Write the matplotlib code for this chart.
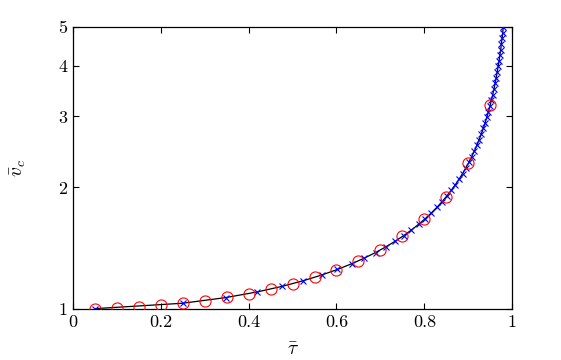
import matplotlib
matplotlib.use("Agg")
import matplotlib.pyplot as plt
from matplotlib.ticker import FixedLocator, NullLocator, FixedFormatter

plt.rcParams['mathtext.fontset'] = 'cm'
plt.rcParams['font.family'] = 'serif'
plt.rcParams['font.serif'] = ['cmr10', 'DejaVu Serif']
plt.rcParams['axes.formatter.use_mathtext'] = True

# red circles
tau_o = [0.05, 0.10, 0.15, 0.20, 0.25, 0.30, 0.35, 0.40, 0.45, 0.50,
         0.55, 0.60, 0.65, 0.70, 0.75, 0.80, 0.85, 0.90, 0.95]
v_o = [1.0013, 1.0050, 1.0114, 1.0206, 1.0328, 1.0483, 1.0675, 1.0911, 1.1198, 1.1547,
       1.1974, 1.2500, 1.3159, 1.4003, 1.5119, 1.6667, 1.8983, 2.2942, 3.2026]

# blue crosses (also the black curve)
tau_x = [0.05, 0.2497, 0.3476, 0.4191, 0.4765, 0.5246, 0.5660, 0.6023, 0.6344, 0.6632,
         0.6890, 0.7123, 0.7336, 0.7530, 0.7707, 0.7869, 0.8019, 0.8156, 0.8283, 0.8401,
         0.8509, 0.8610, 0.8703, 0.8789, 0.8870, 0.8944, 0.9014, 0.9078, 0.9139, 0.9195,
         0.9247, 0.9296, 0.9341, 0.9384, 0.9423, 0.9460, 0.9495, 0.9527, 0.9557, 0.9585,
         0.9612, 0.9636, 0.9659, 0.9681, 0.9701, 0.9720, 0.9738, 0.9754, 0.9770, 0.9784,
         0.9798]
v_x = [1.0013, 1.0327, 1.0665, 1.1014, 1.1374, 1.1746, 1.2130, 1.2527, 1.2937, 1.3360,
       1.3797, 1.4248, 1.4714, 1.5196, 1.5693, 1.6206, 1.6736, 1.7284, 1.7849, 1.8433,
       1.9037, 1.9659, 2.0302, 2.0966, 2.1652, 2.2361, 2.3092, 2.3848, 2.4628, 2.5433,
       2.6265, 2.7125, 2.8012, 2.8928, 2.9874, 3.0852, 3.1861, 3.2903, 3.3979, 3.5091,
       3.6239, 3.7424, 3.8648, 3.9913, 4.1218, 4.2566, 4.3959, 4.5397, 4.6882, 4.8416,
       5.0000]

xticks = [0, 0.2, 0.4, 0.6, 0.8, 1]
xlabels = ['0', '0.2', '0.4', '0.6', '0.8', '1']
yticks = [1, 2, 3, 4, 5]
ylabels = ['1', '2', '3', '4', '5']

fig = plt.figure(figsize=(5.61, 3.6), dpi=100)
ax = fig.add_axes([0.130, 0.142, 0.783, 0.783])

ax.plot(tau_x, v_x, '-', color='black', lw=0.9, zorder=2)
ax.plot(tau_x, v_x, 'x', color='blue', ms=5, mew=0.8, zorder=3)
ax.plot(tau_o, v_o, 'o', mfc='none', mec='red', ms=8, mew=0.8, zorder=4)

ax.set_yscale('log')
ax.set_xlim(0, 1)
ax.set_ylim(1, 5)
ax.xaxis.set_major_locator(FixedLocator(xticks))
ax.xaxis.set_major_formatter(FixedFormatter(xlabels))
ax.yaxis.set_major_locator(FixedLocator(yticks))
ax.yaxis.set_major_formatter(FixedFormatter(ylabels))
ax.yaxis.set_minor_locator(NullLocator())
ax.tick_params(which='both', direction='in', top=True, right=True,
               length=4, width=0.8, labelsize=13, pad=4)
for s in ax.spines.values():
    s.set_linewidth(0.9)

ax.set_xlabel(r'$\bar{\tau}$', fontsize=14, labelpad=8)
ax.set_ylabel(r'$\bar{v}_c$', fontsize=14, labelpad=22)

fig.savefig('out.png', dpi=100)
